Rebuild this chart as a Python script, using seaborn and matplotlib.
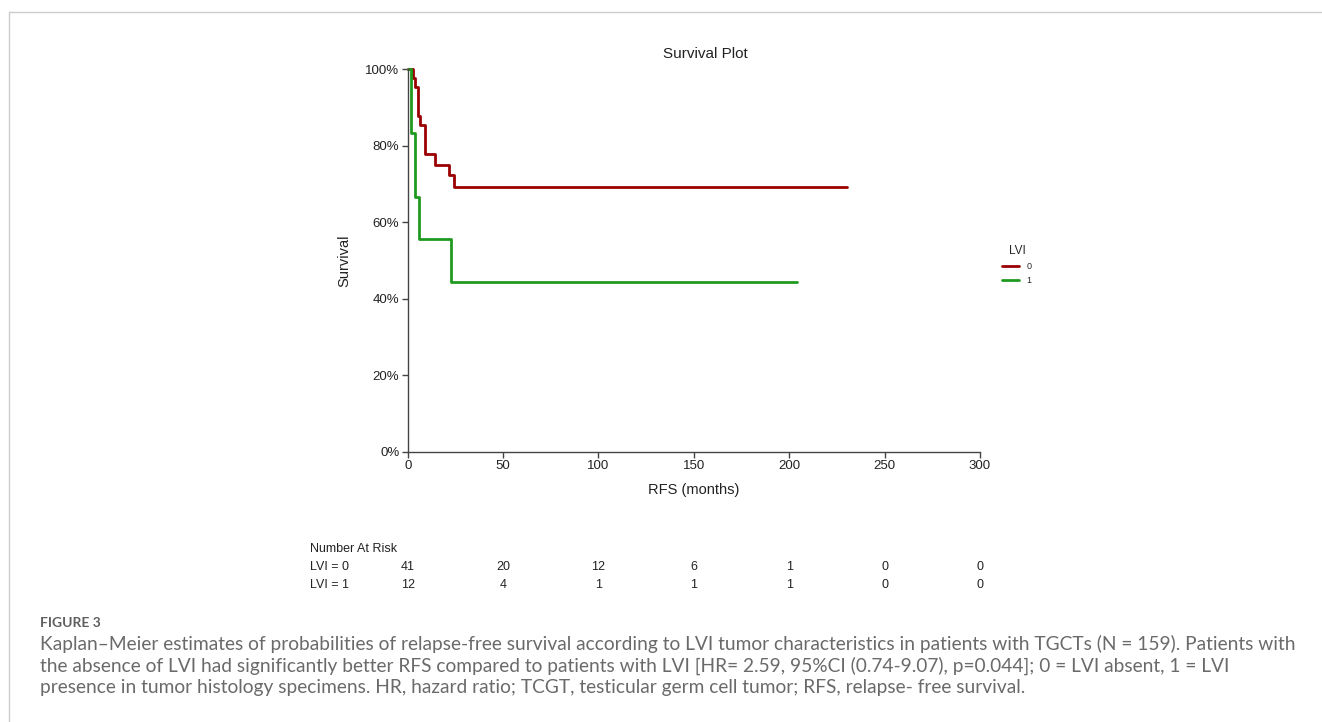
import pandas as pd
import matplotlib
matplotlib.use("Agg")
import matplotlib.pyplot as plt
from matplotlib.lines import Line2D
import matplotlib.transforms as mtransforms
import seaborn as sns

# Kaplan-Meier steps (months, survival)
time_lvi0 = [0, 2.6, 4.0, 5.2, 6.6, 9.3, 14.1, 21.8, 24.1, 230.5]
surv_lvi0 = [1.0, 0.976, 0.952, 0.878, 0.853, 0.777, 0.750, 0.723, 0.692, 0.692]
time_lvi1 = [0, 1.7, 4.0, 5.9, 22.7, 204]
surv_lvi1 = [1.0, 0.834, 0.667, 0.556, 0.445, 0.445]

risk_times = [0, 50, 100, 150, 200, 250, 300]
risk_lvi0 = [41, 20, 12, 6, 1, 0, 0]
risk_lvi1 = [12, 4, 1, 1, 1, 0, 0]

caption_lines = [
    "Kaplan\u2013Meier estimates of probabilities of relapse-free survival according to LVI tumor characteristics in patients with TGCTs (N = 159). Patients with",
    "the absence of LVI had significantly better RFS compared to patients with LVI [HR= 2.59, 95%CI (0.74-9.07), p=0.044]; 0 = LVI absent, 1 = LVI",
    "presence in tumor histology specimens. HR, hazard ratio; TCGT, testicular germ cell tumor; RFS, relapse- free survival.",
]

df = pd.concat([
    pd.DataFrame({"time": time_lvi0, "surv": surv_lvi0, "LVI": "0"}),
    pd.DataFrame({"time": time_lvi1, "surv": surv_lvi1, "LVI": "1"}),
])

sns.set_style("white")
plt.rcParams["font.family"] = ["Liberation Sans", "DejaVu Sans"]

W, H = 1322, 722
fx = lambda x: x / W
fy = lambda y: 1 - y / H

fig = plt.figure(figsize=(13.22, 7.22), dpi=100)
ax = fig.add_axes([fx(407.7), fy(452), (980 - 407.7) / W, (452 - 69) / H])

sns.lineplot(data=df, x="time", y="surv", hue="LVI", estimator=None,
             palette={"0": "#9a0000", "1": "#1f9a1f"}, drawstyle="steps-post",
             linewidth=2.0, ax=ax, clip_on=False)

ax.set_xlim(0, 300)
ax.set_ylim(0, 1)
ax.set_xticks(risk_times)
ax.set_yticks([0, 0.2, 0.4, 0.6, 0.8, 1.0])
ax.set_yticklabels(["0%", "20%", "40%", "60%", "80%", "100%"])
sns.despine(ax=ax)
for s in ["left", "bottom"]:
    ax.spines[s].set_color("#444444")
    ax.spines[s].set_linewidth(1.0)
ax.tick_params(axis="both", direction="out", length=4, width=1, color="#444444",
               labelsize=9.5, labelcolor="#222222", pad=2, left=True, bottom=True)
ax.set_xlabel("RFS (months)", fontsize=10.5, color="#222222", labelpad=8)
ax.set_ylabel("Survival", fontsize=10.5, color="#222222", labelpad=10)
fig.text(fx(705), fy(54), "Survival Plot", ha="center", va="center", fontsize=11, color="#222222")

sns.move_legend(ax, "center", bbox_to_anchor=(fx(1017), fy(265)), bbox_transform=fig.transFigure,
                frameon=False, title="LVI", fontsize=6.5, title_fontsize=8.5,
                handlelength=1.8, handletextpad=0.9, labelspacing=0.6)

# number at risk table
trans = mtransforms.blended_transform_factory(ax.transData, fig.transFigure)
fig.text(fx(310), fy(549), "Number At Risk", ha="left", va="center", fontsize=9, color="#222222")
for row_y, name, vals in [(567, "LVI = 0", risk_lvi0), (585, "LVI = 1", risk_lvi1)]:
    fig.text(fx(310), fy(row_y), name, ha="left", va="center", fontsize=9, color="#222222")
    for t, v in zip(risk_times, vals):
        ax.text(t, fy(row_y), str(v), transform=trans, ha="center", va="center",
                fontsize=9, color="#222222", clip_on=False)

# caption
fig.text(fx(40), fy(623), "FIGURE 3", ha="left", va="center", fontsize=10, fontweight="bold",
         color="#5f5f5f", family=["Lato", "DejaVu Sans"])
for i, line in enumerate(caption_lines):
    fig.text(fx(40), fy(644 + 22 * i), line, ha="left", va="center", fontsize=13.8,
             color="#6a6a6a", family=["Lato", "DejaVu Sans"])

# thin frame around the figure panel
fig.add_artist(Line2D([fx(9), 1], [fy(11.5), fy(11.5)], transform=fig.transFigure, color="#cccccc", lw=1))
fig.add_artist(Line2D([fx(9), fx(9)], [fy(11.5), 0], transform=fig.transFigure, color="#cccccc", lw=1))

fig.savefig("out.png", dpi=100)
